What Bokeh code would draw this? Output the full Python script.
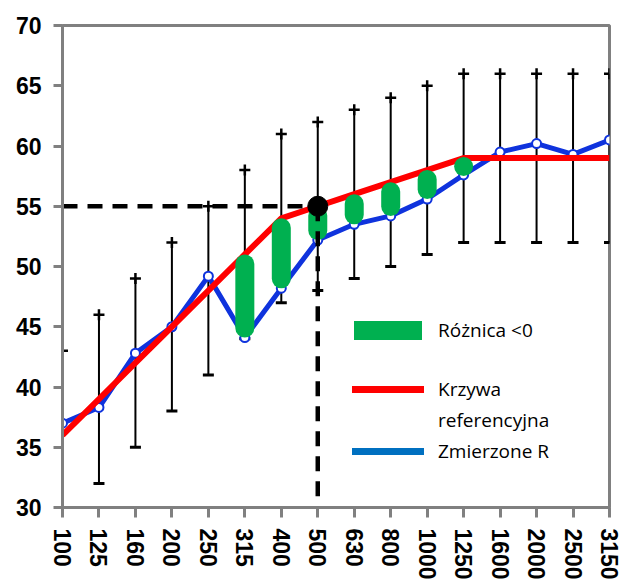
from bokeh.plotting import figure
from bokeh.models import (ColumnDataSource, Range1d, FixedTicker, Legend, LegendItem)
from bokeh.embed import file_html
from bokeh.resources import INLINE

# Frequency bands (Hz)
freqs = ["100", "125", "160", "200", "250", "315", "400", "500",
         "630", "800", "1000", "1250", "1600", "2000", "2500", "3150"]

# Shifted reference curve (dB)
ref_curve = [36, 39, 42, 45, 48, 51, 54, 55, 56, 57, 58, 59, 59, 59, 59, 59]

# Measured sound reduction index R (dB)
measured = [37.0, 38.3, 42.8, 45.0, 49.2, 44.1, 48.2, 52.2,
            53.5, 54.2, 55.6, 57.6, 59.5, 60.2, 59.3, 60.5]

# Tolerance band limits around the reference curve (dB)
band_low = [29, 32, 35, 38, 41, 44, 47, 48, 49, 50, 51, 52, 52, 52, 52, 52]
band_high = [43, 46, 49, 52, 55, 58, 61, 62, 63, 64, 65, 66, 66, 66, 66, 66]

# Bands where the unfavourable deviation is marked
deficit_bands = ["315", "400", "500", "630", "800", "1000", "1250"]

# Single-number rating read at 500 Hz
rating_freq = "500"
rating_value = 55

y_ticks = [30, 35, 40, 45, 50, 55, 60, 65, 70]

W, H = 622, 582
B_LEFT, B_RIGHT, B_TOP, B_BOTTOM = 62, 13, 25, 74
Y0, Y1 = 30, 70

xs = list(range(len(freqs)))

p = figure(width=W, height=H, output_backend="svg", toolbar_location=None,
           x_range=Range1d(0, len(freqs) - 1), y_range=Range1d(Y0, Y1),
           min_border_left=B_LEFT, min_border_right=B_RIGHT,
           min_border_top=B_TOP, min_border_bottom=B_BOTTOM)
p.grid.visible = False
p.outline_line_color = "#808080"
p.outline_line_width = 3
p.background_fill_color = "white"
p.border_fill_color = "white"

GRAY = "#808080"
for ax in (p.xaxis[0], p.yaxis[0]):
    ax.axis_line_color = GRAY
    ax.axis_line_width = 3
    ax.major_tick_line_color = GRAY
    ax.major_tick_line_width = 3
    ax.major_tick_in = 0
    ax.minor_tick_line_color = None
    ax.major_label_text_font = "Liberation Sans"
    ax.major_label_text_font_style = "bold"
    ax.major_label_text_font_size = "23px"
    ax.major_label_text_color = "black"

p.xaxis.ticker = FixedTicker(ticks=xs)
p.xaxis.major_label_overrides = {i: f for i, f in enumerate(freqs)}
p.xaxis.major_label_orientation = "vertical"
p.xaxis.major_tick_out = 10
p.xaxis.major_label_standoff = 11

p.yaxis.ticker = FixedTicker(ticks=y_ticks)
p.yaxis.major_tick_out = 9
p.yaxis.major_label_standoff = 12

# Tolerance whiskers
p.segment(x0=xs, y0=band_low, x1=xs, y1=band_high, line_color="black", line_width=2)
p.scatter(x=xs, y=band_high, marker="cross", size=11, line_color="black", line_width=2.5)
p.scatter(x=xs, y=band_low, marker="dash", size=11, line_color="black", line_width=3)

# Measured curve
BLUE = "#0F33DD"
p.line(xs, measured, line_color=BLUE, line_width=5)
p.scatter(xs, measured, marker="circle", size=9, fill_color="white",
          line_color=BLUE, line_width=2)

# Reference curve
p.line(xs, ref_curve, line_color="#FF0000", line_width=6)

# Unfavourable deviations: pills spanning measured -> reference
BAR_PX = 19
px_per_unit = (H - B_TOP - B_BOTTOM) / (Y1 - Y0)
r_units = (BAR_PX / 2) / px_per_unit
gx, g0, g1 = [], [], []
for f in deficit_bands:
    i = freqs.index(f)
    m, r = measured[i], ref_curve[i]
    inset = min(r_units, (r - m) / 2)
    gx.append(i)
    g0.append(m + inset)
    g1.append(r - inset)
p.segment(x0=gx, y0=g0, x1=gx, y1=g1, line_color="#00B050",
          line_width=BAR_PX, line_cap="round")

# Rating read-off lines and point
ri = freqs.index(rating_freq)
p.line([0, ri], [rating_value, rating_value], line_color="black", line_width=4.5,
       line_dash="15 10")
p.line([ri, ri], [rating_value, Y0], line_color="black", line_width=4.5,
       line_dash="15 10")
p.scatter([ri], [rating_value], marker="circle", size=20, fill_color="black",
          line_color="black")

# Legend swatches (no visible data in the plot area)
nan = float("nan")
def swatch(color, width, alpha=1.0):
    src = ColumnDataSource(data=dict(x=[nan, nan], y=[nan, nan]))
    return p.line("x", "y", source=src, line_color=color, line_width=width,
                  line_cap="round", line_alpha=alpha)

sw_green = swatch("#00B050", 19)
sw_red = swatch("#FF0000", 7)
sw_none = swatch("#FFFFFF", 1, 0.0)
sw_blue = swatch("#0070C0", 7)

def make_legend(items, gw, loc, standoff, spacing):
    return Legend(items=items, location=loc, orientation="vertical",
                  glyph_width=gw, glyph_height=22, label_standoff=standoff,
                  label_height=22, padding=0, margin=0, spacing=spacing,
                  border_line_alpha=0, background_fill_alpha=0,
                  label_text_font="Open Sans", label_text_font_size="19px",
                  label_text_color="black", label_text_line_height=1.2)

leg1 = make_legend([LegendItem(label="Różnica <0", renderers=[sw_green])],
                   68, (292, 164), 16, 0)
leg2 = make_legend([LegendItem(label="Krzywa", renderers=[sw_red]),
                    LegendItem(label="referencyjna", renderers=[sw_none]),
                    LegendItem(label="Zmierzone R", renderers=[sw_blue])],
                   72, (290, 43), 14, 5)
p.add_layout(leg1, "center")
p.add_layout(leg2, "center")

open("out.html", "w").write(file_html(p, INLINE))
